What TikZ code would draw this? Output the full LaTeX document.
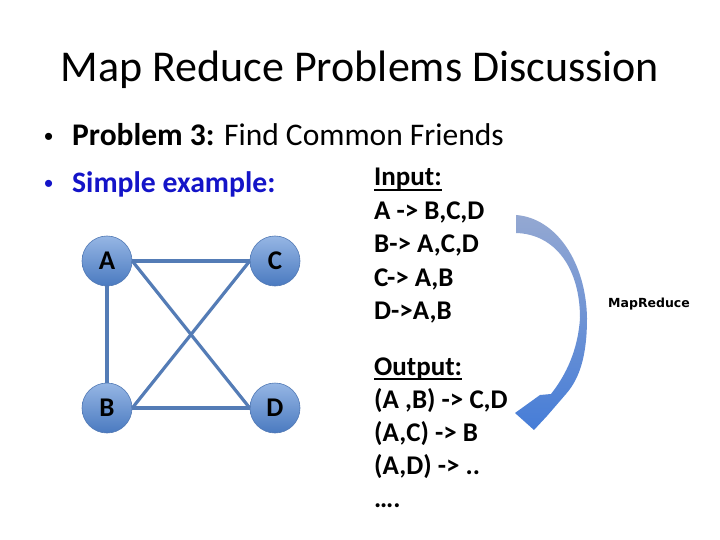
\documentclass[tikz,border=0pt]{standalone}
\usepackage{fontspec}
\setmainfont{Carlito}
\newfontfamily\bulletfont{Liberation Sans}
\newfontfamily\smallfont{DejaVu Sans}
\usetikzlibrary{shapes.geometric}
\definecolor{edgeblue}{RGB}{84,124,182}
\definecolor{nodetop}{RGB}{150,182,228}
\definecolor{nodebot}{RGB}{74,122,192}
\definecolor{nodeedge}{RGB}{80,120,180}
\definecolor{simpleblue}{RGB}{20,20,200}
\definecolor{arrtop}{RGB}{148,168,210}
\definecolor{arrbot}{RGB}{70,125,215}
\tikzset{
  vert/.style={circle, minimum size=50pt, inner sep=0pt, top color=nodetop, bottom color=nodebot, draw=nodeedge, line width=0.6pt, font=\fontsize{27}{27}\selectfont\bfseries},
  link/.style={draw=edgeblue, line width=3.2pt},
  rtext/.style={anchor=base west, inner sep=0pt, font=\fontsize{27}{27}\selectfont\bfseries},
  btext/.style={anchor=base west, inner sep=0pt, font=\fontsize{31.5}{31.5}\selectfont},
  bul/.style={anchor=base west, inner sep=0pt, font=\fontsize{26}{26}\bulletfont},
}
\begin{document}
\begin{tikzpicture}[x=1pt,y=-1pt]
\useasboundingbox (0,0) rectangle (720,540);
\fill[white] (0,0) rectangle (720,540);
% title
\node[inner sep=0pt, anchor=base, font=\fontsize{44}{44}\selectfont] (title) at (360,82) {Map Reduce Problems Discussion};
% bullets
\node[bul] (b1) at (44,146) {•};
\node[btext] (l1) at (72,146) {\textbf{Problem 3:} Find Common Friends};
\node[bul, text=simpleblue] (b2) at (44,193) {•};
\node[btext, text=simpleblue, font=\fontsize{29.7}{29.7}\selectfont] (l2) at (72,193) {\textbf{Simple example:}};
% graph
\node[vert] (A) at (107,261) {A};
\node[vert] (C) at (275,261) {C};
\node[vert] (B) at (107,408) {B};
\node[vert] (D) at (275,408) {D};
\draw[link] (A.east) -- (C.west);
\draw[link] (A.south) -- (B.north);
\draw[link] (A.east) -- (D.west);
\draw[link] (C.west) -- (B.east);
\draw[link] (B.east) -- (D.west);
% right text
\node[rtext] (inp) at (374,186) {Input:};
\draw[line width=1.5pt] ([yshift=-4pt]inp.base west) -- ([yshift=-4pt]inp.base east);
\node[rtext] (i1) at (374,219) {A -> B,C,D};
\node[rtext] (i2) at (374,252) {B-> A,C,D};
\node[rtext] (i3) at (374,286) {C-> A,B};
\node[rtext] (i4) at (374,319) {D->A,B};
\node[rtext] (out) at (374,375) {Output:};
\draw[line width=1.5pt] ([yshift=-4pt]out.base west) -- ([yshift=-4pt]out.base east);
\node[rtext] (o1) at (374,408) {(A ,B) -> C,D};
\node[rtext] (o2) at (374,441) {(A,C) -> B};
\node[rtext] (o3) at (374,474) {(A,D) -> ..};
\node[rtext] (o4) at (374,507) {….};
% curved arrow
\shade[top color=arrtop, bottom color=arrbot]
  (516,215) .. controls (556,218) and (586,262) .. (587,318)
  .. controls (587,355) and (580,378) .. (566,394)
  -- (547,416) -- (534,430) -- (515,413) -- (540,395) -- (551,394)
  .. controls (566,375) and (578,350) .. (580,318)
  .. controls (580,268) and (555,234) .. (516,233) -- cycle;
\node[inner sep=0pt, font=\fontsize{12.5}{12.5}\smallfont\bfseries] (mr) at (649,304) {MapReduce};
\end{tikzpicture}
\end{document}
